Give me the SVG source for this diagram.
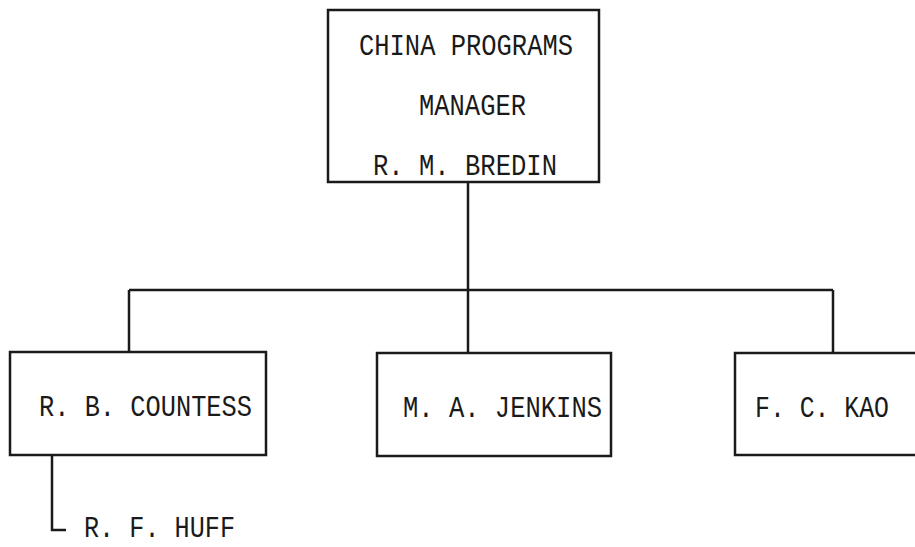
<svg xmlns="http://www.w3.org/2000/svg" width="915" height="547" viewBox="0 0 915 547">
<style>
.box{fill:#fff;stroke:#1a1a1a;stroke-width:2.5}
.ln{fill:none;stroke:#1a1a1a;stroke-width:2.5}
.t{font-family:"Liberation Mono","DejaVu Sans Mono",monospace;font-size:30px;fill:#1a1a1a}
</style>
<rect width="915" height="547" fill="#fff"/>
<g id="connectors">
<path class="ln" d="M468 182V290M129 290H833M129 290V352M468 290V353M833 290V353"/>
<path class="ln" d="M52 455V530H66"/>
</g>
<g id="manager">
<rect class="box" x="328" y="10" width="271" height="172"/>
<text class="t" x="359" y="55" textLength="214" lengthAdjust="spacingAndGlyphs">CHINA PROGRAMS</text>
<text class="t" x="419" y="115" textLength="107" lengthAdjust="spacingAndGlyphs">MANAGER</text>
<text class="t" x="373" y="175" textLength="184" lengthAdjust="spacingAndGlyphs">R. M. BREDIN</text>
</g>
<g id="countess">
<rect class="box" x="10" y="352" width="256" height="103"/>
<text class="t" x="39" y="416" textLength="213" lengthAdjust="spacingAndGlyphs">R. B. COUNTESS</text>
</g>
<g id="jenkins">
<rect class="box" x="377" y="353" width="234" height="103"/>
<text class="t" x="403" y="417" textLength="199" lengthAdjust="spacingAndGlyphs">M. A. JENKINS</text>
</g>
<g id="kao">
<rect class="box" x="735" y="353" width="200" height="102"/>
<text class="t" x="755" y="417" textLength="134" lengthAdjust="spacingAndGlyphs">F. C. KAO</text>
</g>
<g id="huff">
<text class="t" x="84" y="537" textLength="151" lengthAdjust="spacingAndGlyphs">R. F. HUFF</text>
</g>
</svg>
